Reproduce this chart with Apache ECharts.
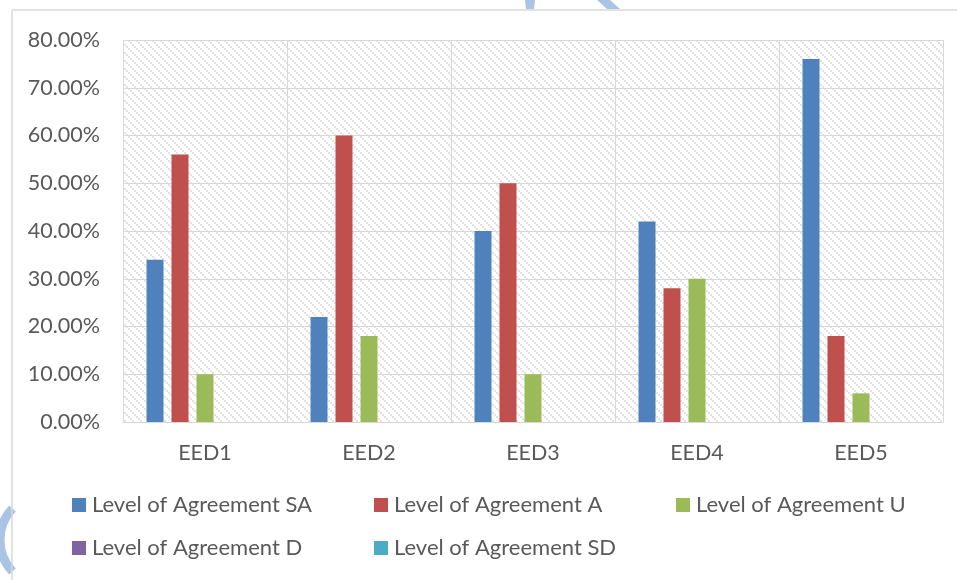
<!DOCTYPE html>
<html>
<head>
<meta charset="utf-8">
<script src="https://cdn.jsdelivr.net/npm/echarts@6/dist/echarts.min.js"></script>
<style>
html,body{margin:0;padding:0;background:#fff;}
#chart{width:957px;height:580px;}
</style>
</head>
<body>
<div id="chart"></div>
<script>
// ---- data ----
const categories = ['EED1', 'EED2', 'EED3', 'EED4', 'EED5'];
const seriesNames = ['Level of Agreement SA', 'Level of Agreement A', 'Level of Agreement U', 'Level of Agreement D', 'Level of Agreement SD'];
const valuesSA = [34, 22, 40, 42, 76];
const valuesA  = [56, 60, 50, 28, 18];
const valuesU  = [10, 18, 10, 30, 6];
const valuesD  = [0, 0, 0, 0, 0];
const valuesSD = [0, 0, 0, 0, 0];
const yTicks = [0, 10, 20, 30, 40, 50, 60, 70, 80];

const colors = ['#4f81bd', '#c0504d', '#9bbb59', '#8064a2', '#4bacc6'];
const allValues = [valuesSA, valuesA, valuesU, valuesD, valuesSD];

// hatch pattern
const tile = document.createElement('canvas');
tile.width = 8; tile.height = 8;
const tctx = tile.getContext('2d');
tctx.fillStyle = '#ffffff';
tctx.fillRect(0, 0, 8, 8);
tctx.fillStyle = '#e2e2e2';
for (let by = 0; by < 4; by++) {
  for (let bx = 0; bx < 4; bx++) {
    if (((bx - by) % 4 + 4) % 4 === 0) tctx.fillRect(bx * 2, by * 2, 2, 2);
  }
}

const chart = echarts.init(document.getElementById('chart'), null, {renderer: 'canvas'});
const FONT = 'Lato';
const legendLefts = [72, 374, 676, 72, 374];
const legendTops = [494, 537];

const option = {
  animation: false,
  backgroundColor: '#ffffff',
  textStyle: {fontFamily: FONT},
  grid: {
    left: 123, top: 40, right: 14, bottom: 158,
    show: true,
    backgroundColor: {image: tile, repeat: 'repeat'},
    borderWidth: 0
  },
  xAxis: {
    type: 'category',
    data: categories,
    boundaryGap: true,
    axisLine: {show: true, lineStyle: {color: '#d9d9d9', width: 1}},
    axisTick: {show: false},
    splitLine: {show: true, lineStyle: {color: '#d9d9d9', width: 1}},
    axisLabel: {color: '#595959', fontSize: 21.5, fontFamily: FONT, margin: 20}
  },
  yAxis: {
    type: 'value',
    min: yTicks[0],
    max: yTicks[yTicks.length - 1],
    interval: 10,
    axisLine: {show: false},
    axisTick: {show: false},
    splitLine: {show: true, lineStyle: {color: '#d9d9d9', width: 1}},
    axisLabel: {
      color: '#595959', fontSize: 21.5, fontFamily: FONT, margin: 23,
      formatter: v => v.toFixed(2) + '%'
    }
  },
  legend: seriesNames.map((n, i) => ({
    data: [n],
    left: legendLefts[i],
    top: legendTops[i < 3 ? 0 : 1],
    padding: 0,
    itemWidth: 14,
    itemHeight: 14,
    icon: 'rect',
    selectedMode: false,
    textStyle: {color: '#595959', fontSize: 22, fontFamily: FONT, padding: [0, 0, 0, 1]}
  })),
  series: seriesNames.map((n, i) => ({
    name: n,
    type: 'bar',
    data: allValues[i],
    barWidth: 17,
    barGap: '47%',
    itemStyle: {color: colors[i]}
  })),
  graphic: [
    {type: 'line', z: 100, shape: {x1: 12, y1: 10, x2: 957, y2: 10}, style: {stroke: '#d9d9d9', lineWidth: 1.5}},
    {type: 'line', z: 100, shape: {x1: 12, y1: 10, x2: 12, y2: 580}, style: {stroke: '#d9d9d9', lineWidth: 1.5}},
    {type: 'polygon', z: 90, shape: {points: [[525, 0], [535, 0], [534, 9], [526, 9]]}, style: {fill: '#a9c4e5'}},
    {type: 'polygon', z: 90, shape: {points: [[597, 0], [610, 0], [620, 9], [607, 9]]}, style: {fill: '#a9c4e5'}},
    {type: 'arc', z: 90, shape: {cx: 46, cy: 540, r: 46, startAngle: Math.PI * 0.76, endAngle: Math.PI * 1.24}, style: {stroke: '#a9c4e5', lineWidth: 9, fill: null}}
  ]
};
chart.setOption(option);
</script>
</body>
</html>
